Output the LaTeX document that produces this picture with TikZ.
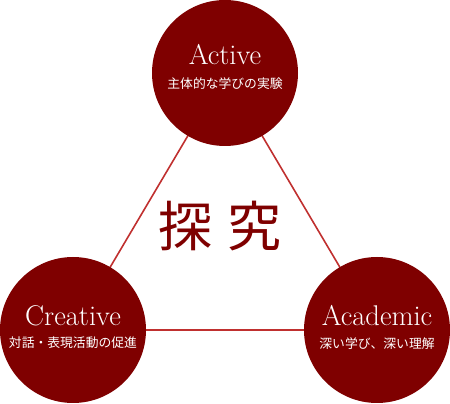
\documentclass[tikz,border=0pt]{standalone}
\usepackage{fontspec}
\newfontfamily\jp{Noto Sans CJK JP}
\usetikzlibrary{backgrounds}
\definecolor{maroon}{HTML}{7F0000}
\definecolor{linkred}{HTML}{C0302F}
\begin{document}
\begin{tikzpicture}[x=1pt,y=1pt,
  disc/.style={circle,fill=maroon,minimum size=146pt,inner sep=0pt},
  title/.style={text=white,anchor=base,font=\fontsize{28.5}{30}\selectfont,inner sep=0pt},
  sub/.style={text=white,inner sep=0pt,font=\jp\fontsize{12.8}{13}\selectfont},
  link/.style={draw=linkred,line width=1.6pt}]
\useasboundingbox (0,0) rectangle (450,404);
\node[disc] (act) at (225,331) {};
\node[disc] (cre) at (73,74) {};
\node[disc] (aca) at (377,74) {};
\begin{pgfonlayer}{background}
\draw[link] (act.center) -- (cre.center);
\draw[link] (act.center) -- (aca.center);
\draw[link] (cre.center) -- (aca.center);
\end{pgfonlayer}
\node[title] (actt) at (225,339) {Active};
\node[sub] (acts) at (225,320.5) {主体的な学びの実験};
\node[title] (cret) at (73,78.5) {Creative};
\node[sub] (cres) at (73,61) {対話・表現活動の促進};
\node[title] (acat) at (377,78.5) {Academic};
\node[sub] (acas) at (377,60.5) {深い学び、深い理解};
\node[text=maroon,inner sep=0pt,font=\jp\fontsize{54}{56}\selectfont] (tan) at (220,177.5) {探\hspace{16pt}究};
\end{tikzpicture}
\end{document}
